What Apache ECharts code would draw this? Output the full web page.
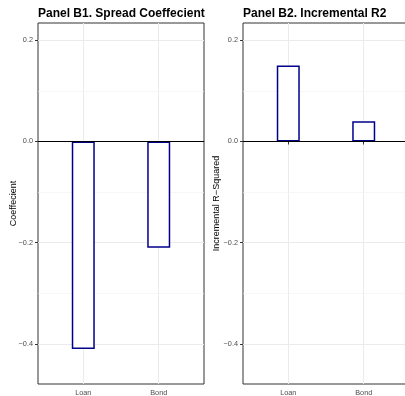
<!DOCTYPE html>
<html>
<head>
<meta charset="utf-8">
<script src="https://cdn.jsdelivr.net/npm/echarts@6/dist/echarts.min.js"></script>
<style>
  html, body { margin: 0; padding: 0; background: #fff; }
  #chart { width: 405px; height: 396px; }
</style>
</head>
<body>
<div id="chart"></div>
<script>
// Categories and values for the two panels
const categories = ['Loan', 'Bond'];
const spreadCoef = [-0.41, -0.21];   // Panel B1
const incrR2 = [0.15, 0.04];         // Panel B2
const yMajorTicks = [-0.4, -0.2, 0, 0.2];
const yMinorTicks = [-0.3, -0.1, 0.1];
const yRange = [-0.479, 0.234];
const xRange = [0.4, 2.6];

const panelTitles = ['Panel B1. Spread Coeffecient', 'Panel B2. Incremental R2'];
const yTitles = ['Coeffecient', 'Incremental R\u2212Squared'];

const chart = echarts.init(document.getElementById('chart'), null, { renderer: 'canvas' });

const fmtY = v => Number(v).toFixed(1).replace('-', '\u2212');

function xAxisFor(gi) {
  const pos = categories.map((c, i) => i + 1);
  return {
    type: 'value', gridIndex: gi, min: xRange[0], max: xRange[1],
    axisLine: { show: false },
    axisTick: { show: true, length: 3, lineStyle: { color: '#333', width: 1 }, customValues: pos },
    axisLabel: { customValues: pos, margin: 5, fontSize: 7.3, color: '#4d4d4d',
                 fontFamily: 'Liberation Sans',
                 formatter: v => categories[Math.round(v) - 1] || '' },
    splitLine: { show: true, lineStyle: { color: '#ebebeb', width: 1 } }
  };
}

function yAxisFor(gi) {
  return {
    type: 'value', gridIndex: gi, min: yRange[0], max: yRange[1],
    name: yTitles[gi], nameLocation: 'middle', nameGap: gi === 0 ? 20 : 22,
    nameMoveOverlap: false,
    nameTextStyle: { fontSize: 9, color: '#000', fontFamily: 'Liberation Sans' },
    axisLine: { show: false },
    axisTick: { show: true, length: 3, lineStyle: { color: '#333', width: 1 }, customValues: yMajorTicks },
    axisLabel: { customValues: yMajorTicks, margin: 5, fontSize: 7.3,
                 color: '#4d4d4d', fontFamily: 'Liberation Sans', formatter: fmtY },
    splitLine: { show: true, lineStyle: { color: '#ebebeb', width: 1 } }
  };
}

// minor grid lines, drawn underneath the bars
function minorGrid(gi) {
  return {
    type: 'line', xAxisIndex: gi, yAxisIndex: gi, data: [[1, 0]],
    showSymbol: false, silent: true, z: 1, lineStyle: { opacity: 0 },
    markLine: {
      z: 1, silent: true, symbol: 'none', label: { show: false },
      lineStyle: { color: '#f2f2f2', width: 0.6, type: 'solid' },
      data: yMinorTicks.map(v => ({ yAxis: v }))
    }
  };
}

// horizontal reference line at zero, above the bars
function zeroLine(gi) {
  return {
    type: 'line', xAxisIndex: gi, yAxisIndex: gi, data: [[1, 0]],
    showSymbol: false, silent: true, z: 12, lineStyle: { opacity: 0 },
    markLine: {
      z: 12, silent: true, symbol: 'none', label: { show: false },
      lineStyle: { color: '#000', width: 1, type: 'solid' },
      data: [{ yAxis: 0 }]
    }
  };
}

function barSeries(gi, values) {
  return {
    type: 'bar', xAxisIndex: gi, yAxisIndex: gi, z: 10,
    data: values.map((v, i) => [i + 1, v]),
    barWidth: 23,
    itemStyle: { color: '#ffffff', borderColor: '#00008b', borderWidth: 1.5 }
  };
}

const titleStyle = { fontSize: 12, fontWeight: 'bold', color: '#000', fontFamily: 'Liberation Sans' };

const option = {
  animation: false,
  backgroundColor: '#fff',
  title: [
    { text: panelTitles[0], left: 38, top: 8, padding: 0, textStyle: titleStyle },
    { text: panelTitles[1], left: 243, top: 8, padding: 0, textStyle: titleStyle }
  ],
  grid: [
    { left: 38, top: 23, width: 166, height: 361, show: true, backgroundColor: '#fff',
      borderColor: '#333', borderWidth: 1, outerBoundsMode: 'none', containLabel: false },
    { left: 243, top: 23, width: 166, height: 361, show: true, backgroundColor: '#fff',
      borderColor: '#333', borderWidth: 1, outerBoundsMode: 'none', containLabel: false }
  ],
  xAxis: [xAxisFor(0), xAxisFor(1)],
  yAxis: [yAxisFor(0), yAxisFor(1)],
  series: [
    minorGrid(0), minorGrid(1),
    barSeries(0, spreadCoef), barSeries(1, incrR2),
    zeroLine(0), zeroLine(1)
  ]
};

chart.setOption(option);
</script>
</body>
</html>
